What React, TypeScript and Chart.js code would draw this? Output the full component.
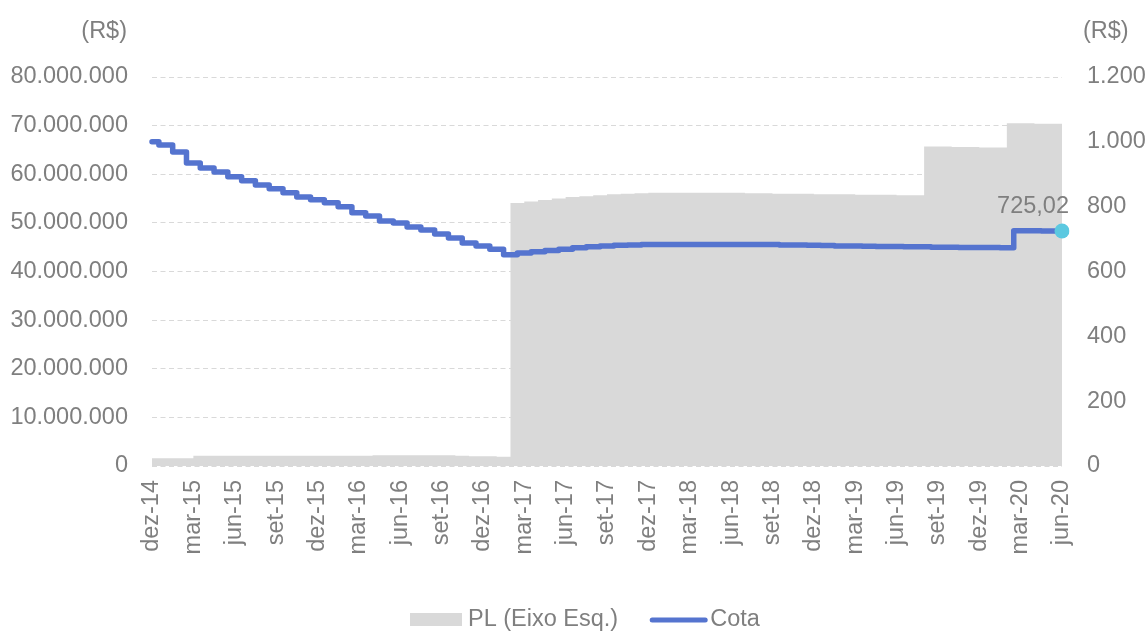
import { useEffect, useRef } from 'react';
import { Chart, registerables } from 'chart.js';

Chart.register(...registerables);

const months = [
  'dez-14', 'jan-15', 'fev-15', 'mar-15', 'abr-15', 'mai-15', 'jun-15', 'jul-15', 'ago-15', 'set-15', 'out-15', 'nov-15',
  'dez-15', 'jan-16', 'fev-16', 'mar-16', 'abr-16', 'mai-16', 'jun-16', 'jul-16', 'ago-16', 'set-16', 'out-16', 'nov-16',
  'dez-16', 'jan-17', 'fev-17', 'mar-17', 'abr-17', 'mai-17', 'jun-17', 'jul-17', 'ago-17', 'set-17', 'out-17', 'nov-17',
  'dez-17', 'jan-18', 'fev-18', 'mar-18', 'abr-18', 'mai-18', 'jun-18', 'jul-18', 'ago-18', 'set-18', 'out-18', 'nov-18',
  'dez-18', 'jan-19', 'fev-19', 'mar-19', 'abr-19', 'mai-19', 'jun-19', 'jul-19', 'ago-19', 'set-19', 'out-19', 'nov-19',
  'dez-19', 'jan-20', 'fev-20', 'mar-20', 'abr-20', 'mai-20', 'jun-20',
];

// PL (patrimônio líquido), R$ — left axis
const plValues = [
  1600000, 1600000, 1600000, 2100000, 2100000, 2100000, 2100000, 2100000, 2100000, 2100000, 2100000, 2100000,
  2100000, 2100000, 2100000, 2100000, 2200000, 2200000, 2200000, 2200000, 2200000, 2200000, 2100000, 2000000,
  2000000, 1900000, 54100000, 54400000, 54700000, 55000000, 55300000, 55500000, 55700000, 55900000, 56000000, 56100000,
  56200000, 56200000, 56200000, 56200000, 56200000, 56200000, 56200000, 56100000, 56100000, 56000000, 56000000, 56000000,
  55900000, 55900000, 55900000, 55800000, 55800000, 55800000, 55700000, 55700000, 65700000, 65700000, 65600000, 65600000,
  65500000, 65500000, 70500000, 70500000, 70400000, 70400000, 70300000,
];

// Cota, R$ — right axis
const cotaValues = [
  1000, 990, 969, 935, 919, 907, 892, 880, 867, 855, 843, 830,
  821, 812, 800, 781, 771, 756, 750, 737, 728, 716, 703, 688,
  679, 669, 652, 657, 661, 665, 669, 673, 676, 679, 681, 682,
  683, 683, 683, 683, 683, 683, 683, 683, 683, 683, 682, 682,
  681, 680, 679, 679, 678, 677, 677, 676, 676, 675, 675, 674,
  674, 674, 673, 726, 725.5, 725.3, 725.02,
];

const leftAxis = { min: 0, max: 80000000, step: 10000000 };
const rightAxis = { min: 0, max: 1200, step: 200 };

const seriesLabels = ['PL (Eixo Esq.)', 'Cota'];
const axisUnit = '(R$)';

const FONT = '"Liberation Sans", Arial, Helvetica, sans-serif';
const FONT_SIZE = 23.5;
const TEXT = '#7f7f7f';
const AREA = '#d9d9d9';
const LINE = '#5574cf';
const DOT = '#5bc8e0';
const GRID = '#d9d9d9';

const thousands = (v: number) =>
  String(Math.round(v)).replace(/\B(?=(\d{3})+(?!\d))/g, '.');

const overlayPlugin = {
  id: 'overlay',
  afterDraw(chart: any) {
    const { ctx, chartArea } = chart;
    ctx.save();
    ctx.font = `${FONT_SIZE}px ${FONT}`;
    ctx.fillStyle = TEXT;

    // axis units
    ctx.textBaseline = 'middle';
    ctx.textAlign = 'right';
    ctx.fillText(axisUnit, chartArea.left - 25, 32);
    ctx.textAlign = 'left';
    ctx.fillText(axisUnit, chartArea.right + 21, 32);

    // last value label
    const meta = chart.getDatasetMeta(1);
    const pt = meta.data[meta.data.length - 1];
    const last = cotaValues[cotaValues.length - 1];
    ctx.textAlign = 'right';
    ctx.textBaseline = 'alphabetic';
    ctx.fillText(last.toFixed(2).replace('.', ','), pt.x + 7, pt.y - 18);

    // legend
    const ly = 620;
    let x = 410;
    ctx.textBaseline = 'middle';
    ctx.textAlign = 'left';
    ctx.fillStyle = AREA;
    ctx.fillRect(x, ly - 7, 52, 13);
    x += 52 + 6;
    ctx.fillStyle = TEXT;
    ctx.fillText(seriesLabels[0], x, ly);
    x += ctx.measureText(seriesLabels[0]).width + 32;
    ctx.strokeStyle = LINE;
    ctx.lineWidth = 5;
    ctx.lineCap = 'round';
    ctx.beginPath();
    ctx.moveTo(x + 2, ly);
    ctx.lineTo(x + 55, ly);
    ctx.stroke();
    x += 60;
    ctx.fillText(seriesLabels[1], x, ly);
    ctx.restore();
  },
};

export default function App() {
  const canvasRef = useRef<HTMLCanvasElement | null>(null);

  useEffect(() => {
    if (!canvasRef.current) return;
    Chart.defaults.font.family = FONT;
    Chart.defaults.font.size = FONT_SIZE;
    Chart.defaults.color = TEXT;
    const lastIdx = cotaValues.length - 1;
    const chart = new Chart(canvasRef.current, {
      type: 'line',
      data: {
        labels: months,
        datasets: [
          {
            label: seriesLabels[0],
            data: plValues,
            yAxisID: 'y',
            fill: 'origin',
            backgroundColor: AREA,
            borderWidth: 0,
            borderColor: AREA,
            pointRadius: 0,
            stepped: 'before',
            order: 2,
          },
          {
            label: seriesLabels[1],
            data: cotaValues,
            yAxisID: 'y1',
            fill: false,
            borderColor: LINE,
            borderWidth: 5.5,
            borderJoinStyle: 'round',
            borderCapStyle: 'round',
            stepped: 'middle',
            pointRadius: (c: any) => (c.dataIndex === lastIdx ? 7.5 : 0),
            pointBackgroundColor: DOT,
            pointBorderWidth: 0,
            pointHoverRadius: 0,
            order: 1,
          },
        ],
      },
      options: {
        animation: false,
        responsive: true,
        maintainAspectRatio: false,
        events: [],
        layout: { autoPadding: false, padding: { left: 10, right: 0, top: 77, bottom: 77 } },
        plugins: {
          legend: { display: false },
          tooltip: { enabled: false },
        },
        scales: {
          x: {
            type: 'category',
            offset: false,
            grid: { display: false, drawTicks: false },
            border: { display: false },
            afterFit: (s: any) => { s.height = 88; },
            ticks: {
              autoSkip: false,
              minRotation: 90,
              maxRotation: 90,
              padding: 14,
              color: TEXT,
              font: { size: FONT_SIZE },
              callback: (_v: any, i: number) => (i % 3 === 0 ? months[i] : null),
            },
          },
          y: {
            position: 'left',
            min: leftAxis.min,
            max: leftAxis.max,
            grid: {
              color: GRID,
              lineWidth: 1,
              drawTicks: false,
            },
            border: { display: false, dash: [5, 3.5] },
            afterFit: (s: any) => { s.width = 142; },
            ticks: {
              stepSize: leftAxis.step,
              padding: 24,
              color: TEXT,
              font: { size: FONT_SIZE },
              callback: (v: any) => thousands(Number(v)),
            },
          },
          y1: {
            position: 'right',
            min: rightAxis.min,
            max: rightAxis.max,
            grid: { display: false, drawTicks: false },
            border: { display: false },
            afterFit: (s: any) => { s.width = 84; },
            ticks: {
              stepSize: rightAxis.step,
              padding: 25,
              color: TEXT,
              font: { size: FONT_SIZE },
              callback: (v: any) => thousands(Number(v)),
            },
          },
        },
      },
      plugins: [overlayPlugin],
    } as any);
    return () => chart.destroy();
  }, []);

  return (
    <div style={{ position: 'absolute', left: 0, top: 0, width: 1146, height: 631 }}>
      <canvas ref={canvasRef} />
    </div>
  );
}
